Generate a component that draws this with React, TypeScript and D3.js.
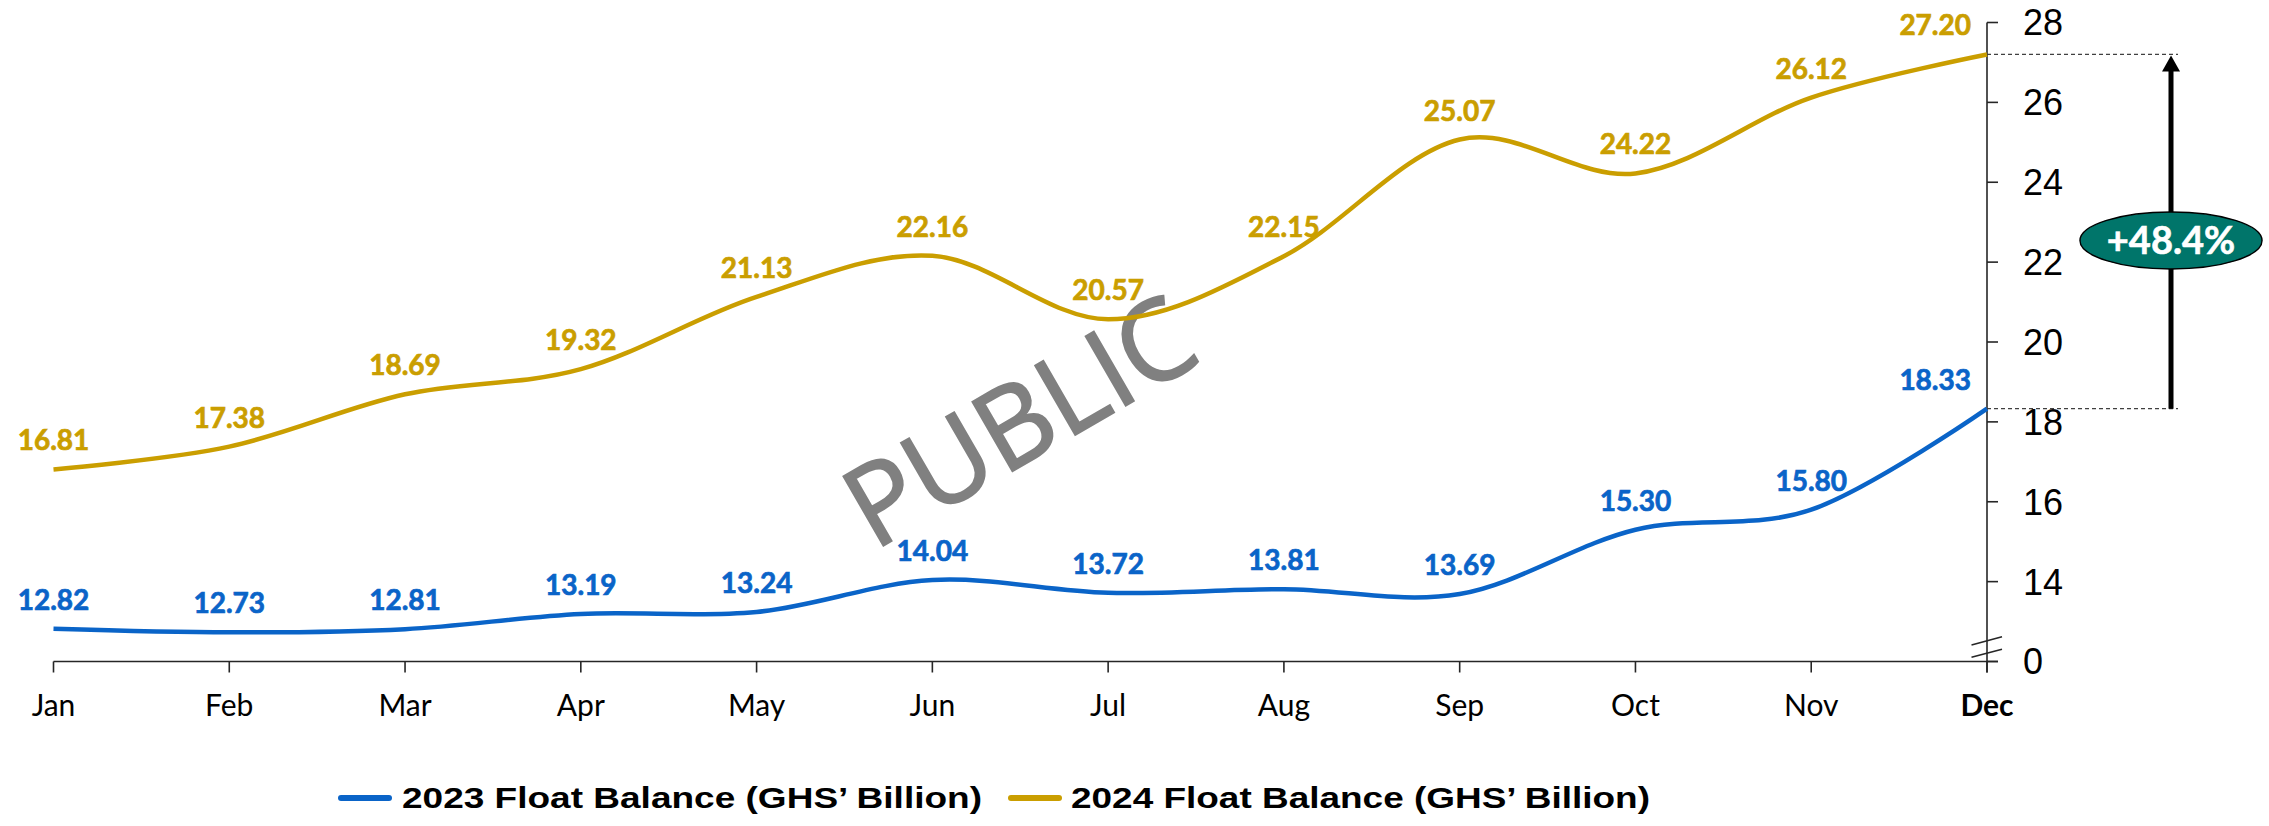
import React from 'react';
import * as d3 from 'd3';

const months = ['Jan', 'Feb', 'Mar', 'Apr', 'May', 'Jun', 'Jul', 'Aug', 'Sep', 'Oct', 'Nov', 'Dec'];
const float2023 = [12.82, 12.73, 12.81, 13.19, 13.24, 14.04, 13.72, 13.81, 13.69, 15.30, 15.80, 18.33];
const float2024 = [16.81, 17.38, 18.69, 19.32, 21.13, 22.16, 20.57, 22.15, 25.07, 24.22, 26.12, 27.20];
const yTickValues = [12, 14, 16, 18, 20, 22, 24, 26, 28];
const yTickLabels = ['0', '14', '16', '18', '20', '22', '24', '26', '28'];
const seriesNames = ["2023 Float Balance (GHS\u2019 Billion)", "2024 Float Balance (GHS\u2019 Billion)"];
const growthLabel = '+48.4%';
const watermark = 'PUBLIC';

const W = 2269;
const H = 826;
const BLUE = '#0A64C8';
const GOLD = '#CA9E00';
const TEAL = '#00756A';

export default function App() {
  const x = d3.scalePoint<string>().domain(months).range([53.5, 1987]);
  const y = d3.scaleLinear().domain([12, 28]).range([661.5, 22.5]);
  const axisX = x('Dec') as number;
  const baseY = y(12);

  const line = d3
    .line<number>()
    .x((_, i) => x(months[i]) as number)
    .y((d) => y(d))
    .curve(d3.curveCardinal.tension(0));

  const series = [
    { name: seriesNames[0], values: float2023, color: BLUE },
    { name: seriesNames[1], values: float2024, color: GOLD },
  ];

  const lastIdx = months.length - 1;
  const yTop = y(float2024[lastIdx]);
  const yBot = y(float2023[lastIdx]);
  const arrowX = 2171;
  const ellCY = 240.5;

  const legendItems = [
    { sx: 338, tx: 402, tl: 580, color: BLUE, name: seriesNames[0] },
    { sx: 1008, tx: 1071, tl: 579, color: GOLD, name: seriesNames[1] },
  ];

  return (
    <svg
      width={W}
      height={H}
      viewBox={`0 0 ${W} ${H}`}
      style={{ position: 'absolute', left: 0, top: 0, background: '#fff' }}
    >
      <rect x={0} y={0} width={W} height={H} fill="#fff" />

      {/* X axis */}
      <line x1={x('Jan') as number} x2={axisX + 11} y1={baseY} y2={baseY} stroke="#262626" strokeWidth={1.6} />
      {months.map((m) => (
        <line key={'xt' + m} x1={x(m) as number} x2={x(m) as number} y1={baseY} y2={baseY + 11} stroke="#262626" strokeWidth={1.6} />
      ))}
      {months.map((m, i) => (
        <text
          key={'xl' + m}
          x={x(m) as number}
          y={716}
          textAnchor="middle"
          fontFamily="Lato, 'Open Sans', sans-serif"
          fontSize={30}
          fontWeight={i === lastIdx ? 700 : 400}
          fill="#000"
        >
          {m}
        </text>
      ))}

      {/* Y axis (right side) */}
      <line x1={axisX} x2={axisX} y1={y(28)} y2={baseY + 11} stroke="#262626" strokeWidth={1.6} />
      {yTickValues.map((v) => (
        <line key={'yt' + v} x1={axisX} x2={axisX + 11} y1={y(v)} y2={y(v)} stroke="#262626" strokeWidth={1.6} />
      ))}
      {yTickValues.map((v, i) => (
        <text
          key={'yl' + v}
          x={axisX + 36}
          y={y(v)}
          dy="0.36em"
          textAnchor="start"
          fontFamily="'Liberation Sans', Arial, sans-serif"
          fontSize={36}
          fill="#000"
        >
          {yTickLabels[i]}
        </text>
      ))}
      {/* axis break marks */}
      <line x1={axisX - 15.5} y1={645} x2={axisX + 15} y2={636.7} stroke="#262626" strokeWidth={1.6} />
      <line x1={axisX - 15.5} y1={657.3} x2={axisX + 15} y2={649.3} stroke="#262626" strokeWidth={1.6} />

      {/* Watermark */}
      <text
        transform="translate(874,551) rotate(-30)"
        fontFamily="'Open Sans', 'Noto Sans', sans-serif"
        fontSize={112}
        fill="#808080"
        stroke="#808080"
        strokeWidth={2}
      >
        {watermark}
      </text>

      {/* Lines */}
      {series.map((s) => (
        <path key={'p' + s.name} d={line(s.values) || ''} fill="none" stroke={s.color} strokeWidth={4.5} strokeLinejoin="round" />
      ))}

      {/* Data labels */}
      {series.map((s) =>
        s.values.map((v, i) => {
          const isLast = i === lastIdx;
          return (
            <text
              key={'dl' + s.name + i}
              x={isLast ? (x(months[i]) as number) - 16 : (x(months[i]) as number)}
              y={y(v) - 19}
              textAnchor={isLast ? 'end' : 'middle'}
              fontFamily="Lato, 'Open Sans', sans-serif"
              fontWeight={700}
              fontSize={28}
              fill={s.color}
              stroke={s.color}
              strokeWidth={0.7}
            >
              {v.toFixed(2)}
            </text>
          );
        })
      )}

      {/* Dashed reference lines */}
      <line x1={axisX} x2={2178} y1={yTop} y2={yTop} stroke="#404040" strokeWidth={1.3} strokeDasharray="4,3" />
      <line x1={axisX} x2={2178} y1={yBot} y2={yBot} stroke="#404040" strokeWidth={1.3} strokeDasharray="4,3" />

      {/* Arrow */}
      <line x1={arrowX} x2={arrowX} y1={yBot} y2={yTop + 14} stroke="#000" strokeWidth={5} />
      <path d={`M${arrowX - 9},${yTop + 17} L${arrowX},${yTop + 1} L${arrowX + 9},${yTop + 17} Z`} fill="#000" />

      {/* Growth ellipse */}
      <ellipse cx={arrowX} cy={ellCY} rx={91} ry={28.5} fill={TEAL} stroke="#000" strokeWidth={1.5} />
      <text
        x={arrowX}
        y={ellCY}
        dy="0.36em"
        textAnchor="middle"
        fontFamily="Lato, 'Open Sans', sans-serif"
        fontWeight={700}
        fontSize={38}
        fill="#fff"
        stroke="#fff"
        strokeWidth={0.6}
      >
        {growthLabel}
      </text>

      {/* Legend */}
      {legendItems.map((l) => (
        <g key={'lg' + l.name}>
          <line x1={l.sx + 3} x2={l.sx + 51} y1={798} y2={798} stroke={l.color} strokeWidth={6} strokeLinecap="round" />
          <text
            x={l.tx}
            y={808}
            fontFamily="'Liberation Sans', Arial, sans-serif"
            fontWeight={700}
            fontSize={30}
            textLength={l.tl}
            lengthAdjust="spacingAndGlyphs"
            fill="#000"
          >
            {l.name}
          </text>
        </g>
      ))}
    </svg>
  );
}
